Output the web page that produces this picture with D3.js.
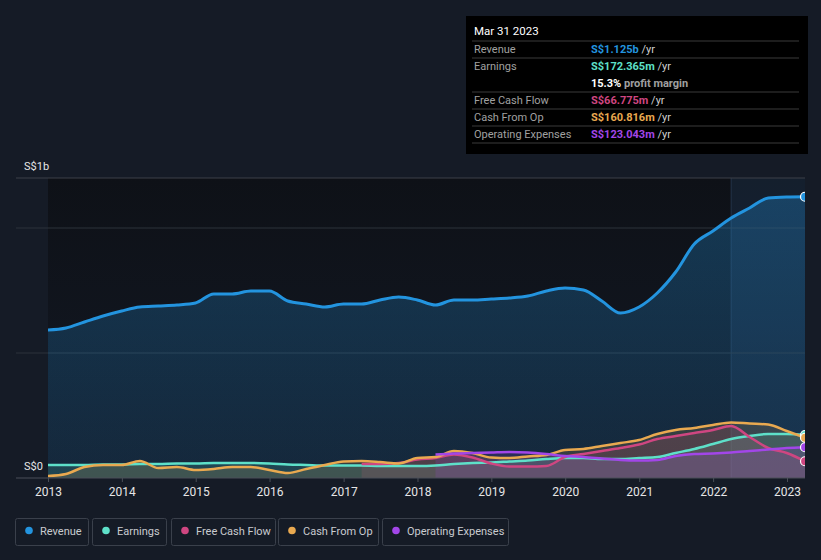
<!DOCTYPE html>
<html>
<head>
<meta charset="utf-8">
<script src="https://cdn.jsdelivr.net/npm/d3@7"></script>
<style>
    body { margin: 0; background: #151b26; }
    text { font-family: Roboto, "Open Sans", sans-serif; }
</style>
</head>
<body>
<svg id="chart" width="821" height="560"></svg>
<script>
// Quarter-end dates (x categories)
const dates = [
    "2012-12-31", "2013-03-31", "2013-06-30", "2013-09-30",
    "2013-12-31", "2014-03-31", "2014-06-30", "2014-09-30",
    "2014-12-31", "2015-03-31", "2015-06-30", "2015-09-30",
    "2015-12-31", "2016-03-31", "2016-06-30", "2016-09-30",
    "2016-12-31", "2017-03-31", "2017-06-30", "2017-09-30",
    "2017-12-31", "2018-03-31", "2018-06-30", "2018-09-30",
    "2018-12-31", "2019-03-31", "2019-06-30", "2019-09-30",
    "2019-12-31", "2020-03-31", "2020-06-30", "2020-09-30",
    "2020-12-31", "2021-03-31", "2021-06-30", "2021-09-30",
    "2021-12-31", "2022-03-31", "2022-06-30", "2022-09-30",
    "2022-12-31", "2023-03-31"
];

// Values in S$ millions, trailing twelve months
const revenue = [
    592, 600, 624, 648, 668, 684, 688, 692, 700, 736, 736, 748,
    748, 708, 696, 684, 696, 696, 712, 724, 712, 692, 712, 712,
    716, 720, 728, 748, 760, 752, 708, 660, 684, 740, 824, 936,
    988, 1040, 1080, 1120, 1124, 1125
];
const earnings = [
    52, 52, 52, 54, 54, 56, 56, 58, 58, 60, 60, 60,
    58, 54, 52, 50, 50, 50, 48, 48, 48, 50, 56, 60,
    62, 66, 70, 76, 80, 80, 76, 76, 80, 84, 100, 116,
    136, 156, 168, 176, 176, 172
];
const freeCashFlow = [
    null, null, null, null, null, null, null, null, null, null, null, null,
    null, null, null, null, null, 56, 56, 60, 74, 80, 94, 82,
    58, 46, 46, 48, 84, 96, 108, 120, 134, 156, 168, 180,
    192, 208, 164, 120, 100, 67
];
const cashFromOp = [
    8, 16, 44, 52, 52, 68, 40, 44, 32, 36, 44, 44,
    32, 20, 36, 52, 66, 68, 64, 58, 80, 84, 108, 100,
    82, 80, 86, 92, 112, 116, 128, 140, 152, 176, 192, 200,
    212, 222, 218, 214, 188, 161
];
const operatingExpenses = [
    null, null, null, null, null, null, null, null, null, null, null, null,
    null, null, null, null, null, null, null, null, null, 94, 98, 100,
    102, 104, 102, 96, 88, 84, 78, 72, 70, 72, 88, 96,
    98, 102, 108, 114, 120, 123
];

const yearTicks = [2013, 2014, 2015, 2016, 2017, 2018, 2019, 2020, 2021, 2022, 2023];
const gridValues = [500, 1000];

const series = [
    {name: "Revenue", values: revenue, color: "#2394df"},
    {name: "Earnings", values: earnings, color: "#5ee0c9"},
    {name: "Free Cash Flow", values: freeCashFlow, color: "#cf4681"},
    {name: "Cash From Op", values: cashFromOp, color: "#e9a950"},
    {name: "Operating Expenses", values: operatingExpenses, color: "#a246e8"}
];

const tooltipRows = [
    {label: "Revenue", value: "S$1.125b", unit: " /yr", color: "#2394df"},
    {label: "Earnings", value: "S$172.365m", unit: " /yr", color: "#5ee0c9"},
    {label: "", value: "15.3%", unit: " profit margin", color: "#ffffff"},
    {label: "Free Cash Flow", value: "S$66.775m", unit: " /yr", color: "#cf4681"},
    {label: "Cash From Op", value: "S$160.816m", unit: " /yr", color: "#e9a950"},
    {label: "Operating Expenses", value: "S$123.043m", unit: " /yr", color: "#a246e8"}
];

const parse = d3.timeParse("%Y-%m-%d");
const dateObjs = dates.map(parse);

const svg = d3.select("#chart");
const plotLeft = 48, plotRight = 805, plotTop = 178, plotBottom = 478;

const x = d3.scaleTime()
    .domain([new Date(2013, 0, 1), new Date(2023, 2, 31)])
    .range([plotLeft, plotRight]);

const y = d3.scaleLinear()
    .domain([0, 1200])
    .range([plotBottom, plotTop]);

// Gradients and clip
const defs = svg.append("defs");
const bg = defs.append("linearGradient").attr("id", "plotBg")
    .attr("x1", 0).attr("y1", 0).attr("x2", 0).attr("y2", 1);
bg.append("stop").attr("offset", "0%").attr("stop-color", "#0e1117");
bg.append("stop").attr("offset", "100%").attr("stop-color", "#131925");

const revGrad = defs.append("linearGradient").attr("id", "revGrad")
    .attr("x1", 0).attr("y1", 0).attr("x2", 0).attr("y2", 1);
revGrad.append("stop").attr("offset", "0%").attr("stop-color", "#2394df").attr("stop-opacity", 0.3);
revGrad.append("stop").attr("offset", "100%").attr("stop-color", "#2394df").attr("stop-opacity", 0.12);

defs.append("clipPath").attr("id", "plotClip")
    .append("rect")
    .attr("x", plotLeft).attr("y", plotTop - 10)
    .attr("width", plotRight - plotLeft).attr("height", plotBottom - plotTop + 10);

// Plot background
svg.append("rect")
    .attr("x", plotLeft).attr("y", plotTop)
    .attr("width", plotRight - plotLeft).attr("height", plotBottom - plotTop)
    .attr("fill", "url(#plotBg)");

// Highlight of last twelve months
const hlStart = x(parse("2022-03-31"));
svg.append("rect")
    .attr("x", hlStart).attr("y", plotTop)
    .attr("width", plotRight - hlStart).attr("height", plotBottom - plotTop)
    .attr("fill", "#1d3550")
    .attr("opacity", 0.4);
svg.append("line")
    .attr("x1", hlStart).attr("x2", hlStart)
    .attr("y1", plotTop).attr("y2", plotBottom)
    .attr("stroke", "#24344a").attr("stroke-width", 1);

// Grid lines
svg.selectAll(".grid")
    .data(gridValues)
    .enter()
    .append("line")
    .attr("x1", 16).attr("x2", plotRight)
    .attr("y1", d => y(d)).attr("y2", d => y(d))
    .attr("stroke", "#2c323b").attr("stroke-width", 1);

svg.append("line")
    .attr("x1", 16).attr("x2", plotRight)
    .attr("y1", plotTop).attr("y2", plotTop)
    .attr("stroke", "#3c4048").attr("stroke-width", 1);

// Areas and lines
const plot = svg.append("g").attr("clip-path", "url(#plotClip)");

series.forEach((s, i) => {
    const pts = dateObjs.map((d, j) => ({date: d, value: s.values[j]}));

    const area = d3.area()
        .defined(d => d.value !== null)
        .x(d => x(d.date))
        .y0(y(0))
        .y1(d => y(d.value))
        .curve(d3.curveMonotoneX);

    plot.append("path")
        .datum(pts)
        .attr("fill", i === 0 ? "url(#revGrad)" : s.color)
        .attr("fill-opacity", i === 0 ? 1 : 0.16)
        .attr("d", area);
});

series.forEach((s, i) => {
    const pts = dateObjs.map((d, j) => ({date: d, value: s.values[j]}));

    const line = d3.line()
        .defined(d => d.value !== null)
        .x(d => x(d.date))
        .y(d => y(d.value))
        .curve(d3.curveMonotoneX);

    plot.append("path")
        .datum(pts)
        .attr("fill", "none")
        .attr("stroke", s.color)
        .attr("stroke-width", i === 0 ? 3 : 2.5)
        .attr("stroke-linejoin", "round")
        .attr("d", line);
});

// End point dots
series.forEach(s => {
    const last = s.values.length - 1;
    plot.append("circle")
        .attr("cx", x(dateObjs[last]))
        .attr("cy", y(s.values[last]))
        .attr("r", 4.5)
        .attr("fill", s.color)
        .attr("stroke", "#ffffff")
        .attr("stroke-width", 1.2);
});

// Baseline and x axis
svg.append("line")
    .attr("x1", 16).attr("x2", plotRight)
    .attr("y1", plotBottom).attr("y2", plotBottom)
    .attr("stroke", "#4a4f58").attr("stroke-width", 1);

const xAxis = svg.append("g")
    .attr("transform", `translate(0,${plotBottom})`)
    .call(d3.axisBottom(x)
        .tickValues(yearTicks.map(yr => new Date(yr, 0, 1)))
        .tickFormat(d3.timeFormat("%Y"))
        .tickSize(4)
        .tickSizeOuter(0));
xAxis.select(".domain").remove();
xAxis.selectAll("line").attr("stroke", "#4a4f58");
xAxis.selectAll("text")
    .attr("fill", "#e6e6e6")
    .attr("font-size", 12)
    .attr("dy", "0.95em");

// Y labels
svg.append("text")
    .attr("x", 24).attr("y", 170)
    .attr("fill", "#e6e6e6").attr("font-size", 11)
    .text("S$1b");
svg.append("text")
    .attr("x", 24).attr("y", 470)
    .attr("fill", "#e6e6e6").attr("font-size", 11)
    .text("S$0");

// Tooltip box
const tip = svg.append("g").attr("transform", "translate(466,16)");
tip.append("rect")
    .attr("width", 342).attr("height", 138)
    .attr("fill", "#000000");
tip.append("text")
    .attr("x", 8).attr("y", 19)
    .attr("fill", "#ffffff").attr("font-size", 11.5)
    .text("Mar 31 2023");

const rowY = [33, 50, 67, 84, 101, 118];
const lineY = [25, 42, 76, 93, 110, 127];
lineY.forEach(ly => {
    tip.append("line")
        .attr("x1", 6).attr("x2", 333)
        .attr("y1", ly).attr("y2", ly)
        .attr("stroke", "#3a3a3a").attr("stroke-width", 1);
});

tooltipRows.forEach((r, i) => {
    tip.append("text")
        .attr("x", 8).attr("y", rowY[i] + 4)
        .attr("fill", "#a0a0a0").attr("font-size", 11)
        .text(r.label);
    const t = tip.append("text")
        .attr("x", 125).attr("y", rowY[i] + 4)
        .attr("font-size", 11);
    t.append("tspan")
        .attr("fill", r.color).attr("font-weight", "bold")
        .text(r.value);
    t.append("tspan")
        .attr("fill", r.label === "" ? "#a0a0a0" : "#d0d0d0")
        .attr("font-weight", r.label === "" ? "bold" : "normal")
        .text(r.unit);
});

// Legend
const legendX = [15, 92, 171, 278, 382];
const legendW = [73, 74, 104, 100, 126];
const legend = svg.append("g");
series.forEach((s, i) => {
    const g = legend.append("g").attr("transform", `translate(${legendX[i]},518)`);
    g.append("rect")
        .attr("x", 0.5).attr("y", 0.5)
        .attr("width", legendW[i]).attr("height", 27)
        .attr("rx", 2)
        .attr("fill", "none")
        .attr("stroke", "#3a404b");
    g.append("circle")
        .attr("cx", 14).attr("cy", 12.5)
        .attr("r", 3.8)
        .attr("fill", s.color);
    g.append("text")
        .attr("x", 25).attr("y", 16.5)
        .attr("fill", "#c9cbd0").attr("font-size", 11)
        .text(s.name);
});
</script>
</body>
</html>
